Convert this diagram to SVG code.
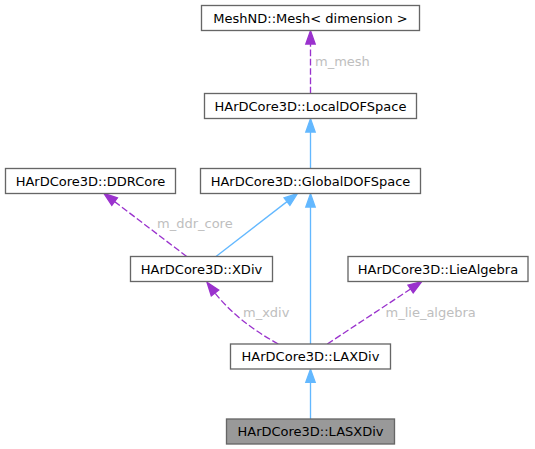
<svg xmlns="http://www.w3.org/2000/svg" width="535" height="449" viewBox="0 0 535 449">
<style>
  .node rect { fill: #ffffff; stroke: #666666; stroke-width: 1.33; }
  .node.cur rect { fill: #999999; }
  .node text { font-family: "DejaVu Sans", "Liberation Sans", sans-serif; font-size: 13px; fill: #000000; text-anchor: middle; }
  .inh { stroke: #63b8ff; stroke-width: 1.33; fill: none; }
  .inhh { fill: #63b8ff; stroke: #63b8ff; stroke-width: 1.33; }
  .use { stroke: #9a32cd; stroke-width: 1.33; fill: none; stroke-dasharray: 6.67,2.67; }
  .useh { fill: #9a32cd; stroke: #9a32cd; stroke-width: 1.33; }
  .lbl { font-family: "DejaVu Sans", "Liberation Sans", sans-serif; font-size: 13px; fill: #bebebe; }
</style>
<rect width="535" height="449" fill="#ffffff"/>
<g id="connectors">
  <!-- LocalDOFSpace -> MeshND -->
  <path class="use" d="M310.5,93.5 L310.5,44"/>
  <polygon class="useh" points="310.5,30.8 315.2,44 305.8,44"/>
  <text class="lbl" x="315" y="65.5">m_mesh</text>
  <!-- GlobalDOFSpace -> LocalDOFSpace -->
  <path class="inh" d="M310.5,168.5 L310.5,132"/>
  <polygon class="inhh" points="310.5,118.8 315.2,132 305.8,132"/>
  <!-- XDiv -> DDRCore -->
  <path class="use" d="M186.7,256.5 L114.6,201.6"/>
  <polygon class="useh" points="104,193.5 117.4,197.9 111.8,205.3"/>
  <text class="lbl" x="157" y="228">m_ddr_core</text>
  <!-- XDiv -> GlobalDOFSpace -->
  <path class="inh" d="M216,256.5 L287,201.6"/>
  <polygon class="inhh" points="297.5,193.5 289.9,205.3 284.1,197.9"/>
  <!-- LAXDiv -> GlobalDOFSpace -->
  <path class="inh" d="M310.5,344 L310.5,207"/>
  <polygon class="inhh" points="310.5,193.8 315.2,207 305.8,207"/>
  <!-- LAXDiv -> XDiv -->
  <path class="use" d="M278.3,344 Q238,322 215,293"/>
  <polygon class="useh" points="207,282.3 218.7,290.1 211.3,295.9"/>
  <text class="lbl" x="243" y="316.5">m_xdiv</text>
  <!-- LAXDiv -> LieAlgebra -->
  <path class="use" d="M327.3,344 L410.6,289"/>
  <polygon class="useh" points="421.7,281.7 413.2,292.9 408,285.1"/>
  <text class="lbl" x="385.5" y="316.5">m_lie_algebra</text>
  <!-- LASXDiv -> LAXDiv -->
  <path class="inh" d="M310.5,419 L310.5,382.3"/>
  <polygon class="inhh" points="310.5,369.3 315.2,382.3 305.8,382.3"/>
</g>
<g id="node-mesh" class="node">
  <rect x="201.5" y="5.5" width="218" height="25"/>
  <text x="310.5" y="22.5">MeshND::Mesh&lt; dimension &gt;</text>
</g>
<g id="node-localdofspace" class="node">
  <rect x="204.5" y="93.5" width="212" height="25"/>
  <text x="310.5" y="110.5">HArDCore3D::LocalDOFSpace</text>
</g>
<g id="node-ddrcore" class="node">
  <rect x="5.5" y="168.5" width="170" height="25"/>
  <text x="90.5" y="185.5">HArDCore3D::DDRCore</text>
</g>
<g id="node-globaldofspace" class="node">
  <rect x="200.5" y="168.5" width="220" height="25"/>
  <text x="310.5" y="185.5">HArDCore3D::GlobalDOFSpace</text>
</g>
<g id="node-xdiv" class="node">
  <rect x="130.5" y="256.5" width="142" height="25"/>
  <text x="201.5" y="273.5">HArDCore3D::XDiv</text>
</g>
<g id="node-liealgebra" class="node">
  <rect x="348" y="256.5" width="180" height="25"/>
  <text x="438" y="273.5">HArDCore3D::LieAlgebra</text>
</g>
<g id="node-laxdiv" class="node">
  <rect x="230.5" y="344" width="160" height="25"/>
  <text x="310.5" y="361">HArDCore3D::LAXDiv</text>
</g>
<g id="node-lasxdiv" class="node cur">
  <rect x="226.5" y="419" width="168" height="25"/>
  <text x="310.5" y="436">HArDCore3D::LASXDiv</text>
</g>
</svg>
